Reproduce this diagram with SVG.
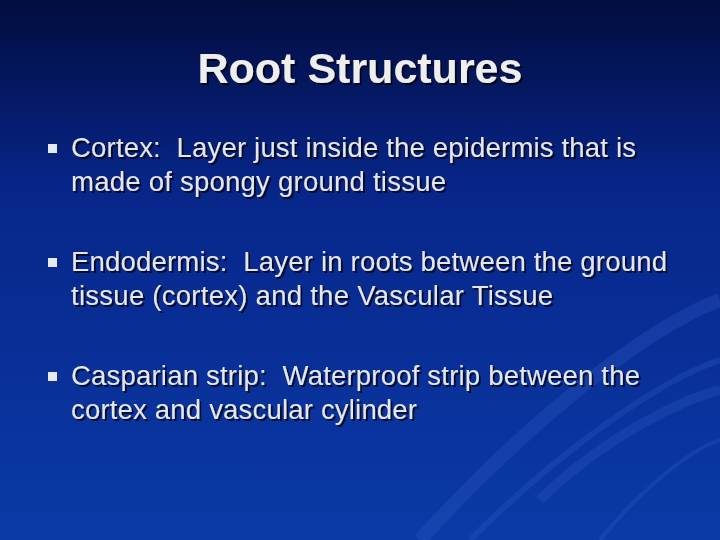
<svg xmlns="http://www.w3.org/2000/svg" width="720" height="540" viewBox="0 0 720 540">
<defs>
<linearGradient id="bg" x1="0" y1="0" x2="0" y2="1">
<stop offset="0" stop-color="#020c3e"/>
<stop offset="0.35" stop-color="#07268a"/>
<stop offset="1" stop-color="#0b3aa6"/>
</linearGradient>
<filter id="sh" x="-5%" y="-20%" width="110%" height="140%"><feDropShadow dx="2" dy="2" stdDeviation="0.5" flood-color="#000" flood-opacity="0.7"/></filter>
</defs>
<style>
.t{font-family:"Liberation Sans",Arial,sans-serif;fill:#e6e6ee;font-size:27.5px;filter:url(#sh);white-space:pre}
.b{fill:#e8e8f0}
.sw{fill:none;stroke:#2a55c0;stroke-opacity:0.35}
</style>
<rect width="720" height="540" fill="url(#bg)"/>
<g id="swoosh">
<path class="sw" stroke-width="14" d="M420 540 C520 430 640 330 720 300"/>
<path class="sw" stroke-width="6" d="M470 540 C560 450 660 380 720 360"/>
<path class="sw" stroke-width="10" d="M540 500 C600 440 680 400 720 390"/>
<path class="sw" stroke-width="4" d="M600 540 C640 490 690 450 720 440"/>
</g>
<g id="title"><text x="360" y="83" text-anchor="middle" font-family="Liberation Sans,Arial,sans-serif" font-weight="bold" font-size="43" fill="#eeeeee" filter="url(#sh)">Root Structures</text></g>
<g id="b1"><rect class="b" x="48" y="144" width="9" height="9"/>
<text class="t" x="71" y="157" xml:space="preserve" textLength="565">Cortex:  Layer just inside the epidermis that is</text>
<text class="t" x="71" y="191" textLength="375">made of spongy ground tissue</text></g>
<g id="b2"><rect class="b" x="48" y="258" width="9" height="9"/>
<text class="t" x="71" y="271" xml:space="preserve" textLength="596">Endodermis:  Layer in roots between the ground</text>
<text class="t" x="71" y="305" textLength="482">tissue (cortex) and the Vascular Tissue</text></g>
<g id="b3"><rect class="b" x="48" y="372" width="9" height="9"/>
<text class="t" x="71" y="385" xml:space="preserve" textLength="569">Casparian strip:  Waterproof strip between the</text>
<text class="t" x="71" y="419" textLength="346">cortex and vascular cylinder</text></g>
</svg>
